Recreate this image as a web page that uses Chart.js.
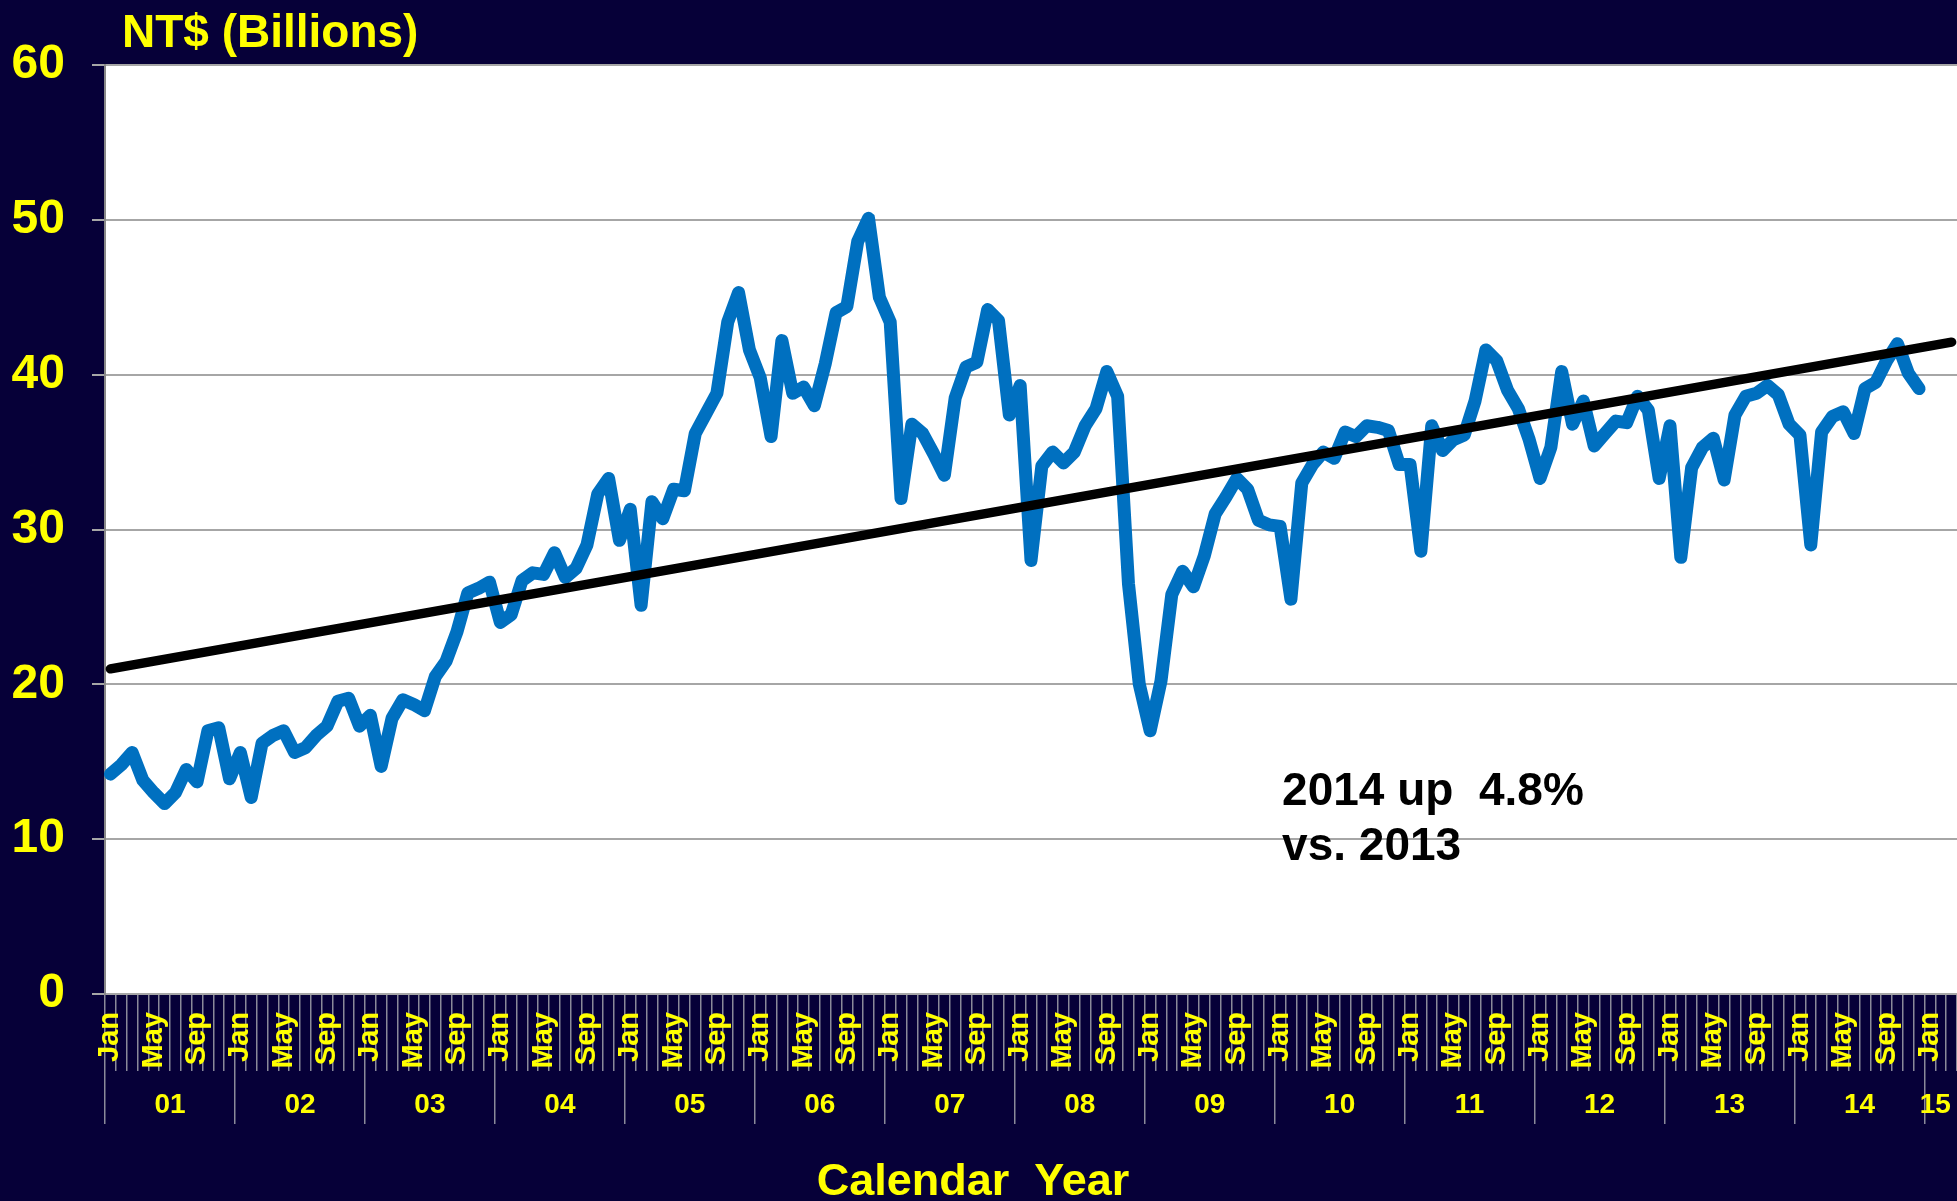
<!DOCTYPE html>
<html>
<head>
<meta charset="utf-8">
<title>NT$ (Billions)</title>
<script src="https://cdn.jsdelivr.net/npm/chart.js@4.4.0/dist/chart.umd.min.js"></script>
<style>
  html, body { margin: 0; padding: 0; background: #060038; overflow: hidden; }
  canvas { display: block; }
</style>
</head>
<body>
<canvas id="myChart" width="1957" height="1201"></canvas>
<script>
// monthly values, NT$ billions (Jan..Dec)
const y2001 = [14.2, 14.8, 15.6, 13.8, 13.0, 12.3, 13.0, 14.5, 13.7, 17.0, 17.2, 13.9];
const y2002 = [15.6, 12.7, 16.2, 16.7, 17.0, 15.6, 15.9, 16.7, 17.3, 18.9, 19.1, 17.3];
const y2003 = [18.0, 14.7, 17.8, 19.0, 18.7, 18.3, 20.5, 21.5, 23.4, 25.9, 26.2, 26.6];
const y2004 = [24.0, 24.5, 26.7, 27.2, 27.1, 28.5, 26.9, 27.5, 29.0, 32.3, 33.3, 29.3];
const y2005 = [31.3, 25.1, 31.8, 30.7, 32.6, 32.5, 36.2, 37.5, 38.8, 43.4, 45.3, 41.6];
const y2006 = [39.8, 36.0, 42.2, 38.8, 39.2, 38.0, 40.7, 44.0, 44.4, 48.6, 50.1, 45.0];
const y2007 = [43.4, 32.0, 36.8, 36.2, 34.9, 33.5, 38.5, 40.5, 40.8, 44.2, 43.5, 37.4];
const y2008 = [39.3, 28.0, 34.1, 35.0, 34.3, 35.0, 36.7, 37.8, 40.2, 38.6, 26.5, 20.0];
const y2009 = [17.0, 20.2, 25.8, 27.3, 26.3, 28.3, 31.0, 32.1, 33.3, 32.6, 30.6, 30.3];
const y2010 = [30.2, 25.5, 33.0, 34.2, 35.0, 34.6, 36.3, 36.0, 36.7, 36.6, 36.4, 34.2];
const y2011 = [34.2, 28.6, 36.7, 35.1, 35.8, 36.1, 38.3, 41.6, 40.9, 39.0, 37.8, 35.8];
const y2012 = [33.3, 35.3, 40.2, 36.8, 38.3, 35.4, 36.2, 37.0, 36.9, 38.6, 37.7, 33.3];
const y2013 = [36.7, 28.2, 34.0, 35.3, 35.9, 33.2, 37.4, 38.6, 38.8, 39.3, 38.7, 36.8];
const y2014 = [36.1, 29.0, 36.3, 37.3, 37.6, 36.2, 39.1, 39.5, 40.9, 42.0, 40.1, 39.1];

// trend line, first and last category
const trendValues = [21.0, 42.1];

const monthNames = ['Jan', 'Feb', 'Mar', 'Apr', 'May', 'Jun', 'Jul', 'Aug', 'Sep', 'Oct', 'Nov', 'Dec'];
const monthTickLabels = ['Jan', 'May', 'Sep'];
const yearLabels = ['01', '02', '03', '04', '05', '06', '07', '08', '09', '10', '11', '12', '13', '14', '15'];
const lastYearMonths = 3;
const noteLines = ['2014 up  4.8%', 'vs. 2013'];

const values = [].concat(y2001, y2002, y2003, y2004, y2005, y2006, y2007,
  y2008, y2009, y2010, y2011, y2012, y2013, y2014);

// category labels "Jan 01" ... "Mar 15"
const labels = [];
yearLabels.forEach(function (yy, k) {
  const n = k < yearLabels.length - 1 ? 12 : lastYearMonths;
  for (let m = 0; m < n; m++) labels.push(monthNames[m] + ' ' + yy);
});

const FONT = '"Liberation Sans", Arial, Helvetica, sans-serif';
const NAVY = '#060038';
const YELLOW = '#ffff00';
const GRID = '#a6a6a6';
const TICK = '#8a8a9a';

const backgroundPlugin = {
  id: 'bg',
  beforeDraw(chart) {
    const { ctx, chartArea } = chart;
    ctx.save();
    ctx.fillStyle = NAVY;
    ctx.fillRect(0, 0, chart.width, chart.height);
    ctx.fillStyle = '#ffffff';
    ctx.fillRect(chartArea.left, chartArea.top, chartArea.right - chartArea.left, chartArea.bottom - chartArea.top);
    ctx.restore();
  }
};

const textPlugin = {
  id: 'texts',
  afterDatasetsDraw(chart) {
    const { ctx, scales } = chart;
    ctx.save();
    // note inside the plot
    ctx.fillStyle = '#000000';
    ctx.font = 'bold 46px ' + FONT;
    ctx.textAlign = 'left';
    ctx.textBaseline = 'alphabetic';
    const nx = scales.x.getPixelForValue(labels.indexOf('Jan 10')) + 2;
    const ny = scales.y.getPixelForValue(12.2);
    noteLines.forEach(function (t, i) { ctx.fillText(t, nx, ny + i * 55); });
    // unit and axis title
    ctx.fillStyle = YELLOW;
    ctx.font = 'bold 46px ' + FONT;
    ctx.fillText('NT$ (Billions)', 122, 47);
    ctx.font = 'bold 45px ' + FONT;
    ctx.textAlign = 'center';
    ctx.fillText('Calendar  Year', 973, 1195);
    ctx.restore();
  }
};

const ctx = document.getElementById('myChart');

new Chart(ctx, {
  type: 'line',
  data: {
    labels: labels,
    datasets: [{
      label: 'Trend',
      data: [{ x: labels[0], y: trendValues[0] }, { x: labels[labels.length - 1], y: trendValues[1] }],
      borderColor: '#000000',
      borderWidth: 9.5,
      borderCapStyle: 'round',
      pointRadius: 0,
      tension: 0
    }, {
      label: 'NT$',
      data: values,
      borderColor: '#0070c0',
      borderWidth: 13,
      borderJoinStyle: 'round',
      borderCapStyle: 'round',
      pointRadius: 0,
      tension: 0
    }]
  },
  options: {
    responsive: false,
    devicePixelRatio: 1,
    animation: false,
    layout: { padding: { top: 65, left: 0, right: 0, bottom: 0 } },
    plugins: {
      legend: { display: false },
      tooltip: { enabled: false }
    },
    scales: {
      x: {
        type: 'category',
        position: 'bottom',
        offset: true,
        afterFit: function (scale) { scale.height = 77; },
        grid: {
          offset: true,
          drawOnChartArea: false,
          drawTicks: true,
          tickLength: 77,
          color: TICK,
          lineWidth: 1.5
        },
        border: { display: true, color: GRID, width: 2 },
        ticks: {
          autoSkip: false,
          minRotation: 90,
          maxRotation: 90,
          padding: -59,
          color: YELLOW,
          font: { family: FONT, size: 29, weight: 'bold' },
          callback: function (value, index) {
            const m = monthNames[index % 12];
            return monthTickLabels.includes(m) ? m : '';
          }
        }
      },
      x2: {
        type: 'category',
        position: 'bottom',
        offset: true,
        afterFit: function (scale) { scale.height = 130; },
        grid: {
          offset: true,
          drawOnChartArea: false,
          drawTicks: true,
          tickLength: 53,
          lineWidth: 1.5,
          color: function (c) { return c.index % 12 === 0 ? TICK : 'rgba(0,0,0,0)'; }
        },
        border: { display: false },
        ticks: {
          autoSkip: false,
          maxRotation: 0,
          minRotation: 0,
          padding: -36,
          labelOffset: -5.4,
          color: YELLOW,
          font: { family: FONT, size: 28, weight: 'bold' },
          callback: function (value, index) {
            const yr = Math.floor(index / 12);
            const m = index % 12;
            if (yr < yearLabels.length - 1 && m === 6) return yearLabels[yr];
            if (yr === yearLabels.length - 1 && m === 1) return yearLabels[yr];
            return '';
          }
        }
      },
      y: {
        min: 0,
        max: 60,
        afterFit: function (scale) { scale.width = 105; },
        grid: {
          color: GRID,
          lineWidth: 2,
          drawTicks: true,
          tickLength: 13
        },
        border: { display: true, color: '#888888', width: 2 },
        ticks: {
          stepSize: 10,
          padding: 27,
          color: YELLOW,
          font: { family: FONT, size: 48, weight: 'bold' }
        }
      }
    }
  },
  plugins: [backgroundPlugin, textPlugin]
});
</script>
</body>
</html>
